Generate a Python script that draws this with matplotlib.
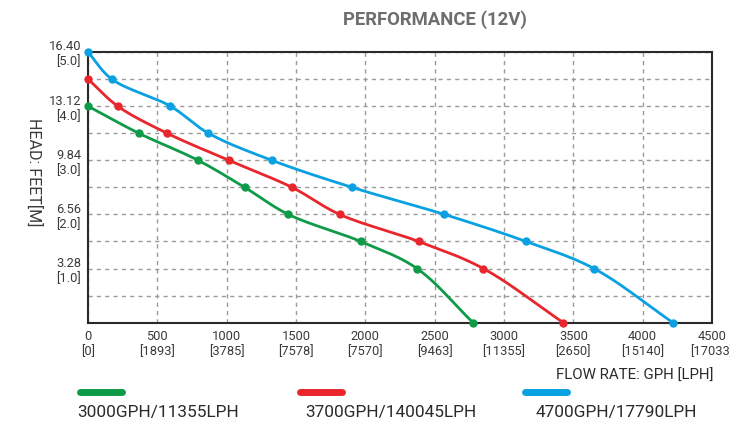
import numpy as np
import matplotlib.pyplot as plt
from matplotlib.lines import Line2D

plt.rcParams["font.family"] = ["Roboto", "DejaVu Sans"]

# flow (GPH) vs head (m)
flow_3000 = [0, 366, 793, 1130, 1445, 1967, 2373, 2777]
head_3000 = [4.0, 3.5, 3.0, 2.5, 2.0, 1.5, 1.0, 0.0]
flow_3700 = [0, 214, 570, 1015, 1471, 1815, 2385, 2851, 3428]
head_3700 = [4.5, 4.0, 3.5, 3.0, 2.5, 2.0, 1.5, 1.0, 0.0]
flow_4700 = [0, 171, 594, 868, 1325, 1904, 2570, 3159, 3649, 4219]
head_4700 = [5.0, 4.5, 4.0, 3.5, 3.0, 2.5, 2.0, 1.5, 1.0, 0.0]

series_names = ["3000GPH/11355LPH", "3700GPH/140045LPH", "4700GPH/17790LPH"]
colors = ["#0f9a48", "#e8262c", "#0aa1e2"]

x_ticks = [0, 500, 1000, 1500, 2000, 2500, 3000, 3500, 4000, 4500]
x_labels = ["0\n[0]", "500\n[1893]", "1000\n[3785]", "1500\n[7578]", "2000\n[7570]",
            "2500\n[9463]", "3000\n[11355]", "3500\n[2650]", "4000\n[15140]", "4500\n[17033]"]
y_ticks = [1, 2, 3, 4, 5]
y_labels = ["3.28\n[1.0]", "6.56\n[2.0]", "9.84\n[3.0]", "13.12\n[4.0]", "16.40\n[5.0]"]


def smooth(xs, ys, n=25, alpha=0.5):
    # centripetal catmull-rom through the points, done in screen-like units
    sx, sy = 624 / 4500.0, 270 / 5.0
    P = np.column_stack([np.array(xs) * sx, np.array(ys) * sy])
    P = np.vstack([2 * P[0] - P[1], P, 2 * P[-1] - P[-2]])
    out = []
    for i in range(1, len(P) - 2):
        p0, p1, p2, p3 = P[i - 1:i + 3]
        t0 = 0.0
        t1 = t0 + np.linalg.norm(p1 - p0) ** alpha
        t2 = t1 + np.linalg.norm(p2 - p1) ** alpha
        t3 = t2 + np.linalg.norm(p3 - p2) ** alpha
        t = np.linspace(t1, t2, n)[:, None]
        A1 = (t1 - t) / (t1 - t0) * p0 + (t - t0) / (t1 - t0) * p1
        A2 = (t2 - t) / (t2 - t1) * p1 + (t - t1) / (t2 - t1) * p2
        A3 = (t3 - t) / (t3 - t2) * p2 + (t - t2) / (t3 - t2) * p3
        B1 = (t2 - t) / (t2 - t0) * A1 + (t - t0) / (t2 - t0) * A2
        B2 = (t3 - t) / (t3 - t1) * A2 + (t - t1) / (t3 - t1) * A3
        C = (t2 - t) / (t2 - t1) * B1 + (t - t1) / (t2 - t1) * B2
        out.append(C)
    C = np.vstack(out)
    return C[:, 0] / sx, C[:, 1] / sy


fig = plt.figure(figsize=(7.3, 4.21), dpi=100)
ax = fig.add_axes([88 / 730, 1 - 322.7 / 421, 624 / 730, 270.7 / 421])

ax.set_xlim(0, 4500)
ax.set_ylim(0, 5)
ax.set_xticks(x_ticks)
ax.set_xticklabels(x_labels)
ax.set_yticks(y_ticks)
ax.set_yticklabels(y_labels)
ax.set_yticks(np.arange(0.5, 5, 1.0), minor=True)
gridstyle = dict(color="#9a9a9a", linestyle=(0, (3, 3)), linewidth=1.0)
ax.grid(True, which="major", **gridstyle)
ax.grid(True, which="minor", axis="y", **gridstyle)
ax.tick_params(which="both", length=0)
ax.tick_params(axis="x", pad=5, labelsize=9.3, labelcolor="#3a3a3a")
ax.tick_params(axis="y", pad=5, labelsize=9.3, labelcolor="#3a3a3a")
for s in ax.spines.values():
    s.set_color("#2a2a2a")
    s.set_linewidth(1.5)

all_data = [(flow_3000, head_3000), (flow_3700, head_3700), (flow_4700, head_4700)]
for (fx, hy), c in zip(all_data, colors):
    cx, cy = smooth(fx, hy)
    ax.plot(cx, cy, color=c, linewidth=2.0, clip_on=False, zorder=3)
    ax.plot(fx, hy, "o", color=c, markersize=5, clip_on=False, zorder=4)

fig.text(435 / 730, 1 - 20 / 421, "PERFORMANCE (12V)", ha="center", va="center",
         fontsize=13.3, fontweight="bold", color="#6e6e6e")
fig.text(34 / 730, 1 - 172 / 421, "HEAD: FEET[M]", rotation=-90, ha="center", va="center",
         fontsize=11.5, color="#3a3a3a")
fig.text(713 / 730, 1 - 376 / 421, "FLOW RATE: GPH [LPH]", ha="right", va="center",
         fontsize=10.8, color="#2a2a2a")

bar_x = [80, 300, 525]
text_x = [77, 305, 536]
for bx, tx, c, name in zip(bar_x, text_x, colors, series_names):
    fig.add_artist(Line2D([bx / 730, (bx + 42) / 730], [1 - 392 / 421] * 2, color=c,
                          linewidth=5, solid_capstyle="round", transform=fig.transFigure))
    fig.text(tx / 730, 1 - 412 / 421, name, ha="left", va="center", fontsize=12.4, color="#2a2a2a")

fig.savefig("out.png", dpi=100)
